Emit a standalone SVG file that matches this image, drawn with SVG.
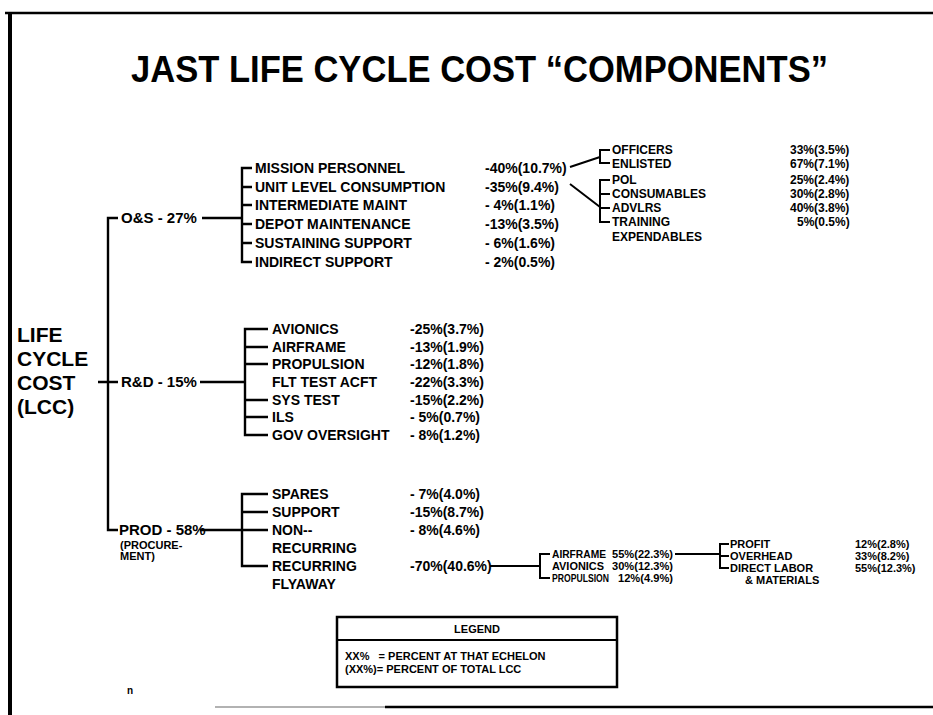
<svg xmlns="http://www.w3.org/2000/svg" width="933" height="715" viewBox="0 0 933 715">
<style>
text{font-family:"Liberation Sans",Arial,sans-serif;font-weight:bold;fill:#000}
.t{font-size:37px}
.root{font-size:21px}
.l1{font-size:15px}
.l2{font-size:14px}
.l3{font-size:12px}
.l4{font-size:11px}
.l5{font-size:10.5px}
.lg{font-size:11px}
.c{stroke:#000;stroke-width:2.4;fill:none}
.c3{stroke:#000;stroke-width:2;fill:none}
.frame{stroke:#000;fill:none}
</style>
<rect width="933" height="715" fill="#fff"/>
<g id="frame">
<rect x="8" y="12" width="4" height="703" fill="#000"/>
<line class="frame" x1="5" y1="13" x2="933" y2="13" stroke-width="2.5"/>
<line x1="215" y1="707" x2="385" y2="707" stroke="#999" stroke-width="1.5"/>
<line class="frame" x1="385" y1="707" x2="933" y2="707" stroke-width="2.5"/>
</g>
<g id="title"><text class="t" x="131" y="82" textLength="697" lengthAdjust="spacingAndGlyphs">JAST LIFE CYCLE COST “COMPONENTS”</text></g>
<g id="connectors">
<path class="c" d="M118,218 H108 V530 H118 M98,382 H118"/>
<path class="c" d="M202,218 H242 M252,168 H242 V262 H252 M242,187 H252 M242,205 H252 M242,224 H252 M242,243 H252"/>
<path class="c3" d="M570,167 L600,157 M610,150 H600 V163 H610"/>
<path class="c3" d="M570,184 L600,207 M610,180 H600 V222 H610 M600,194 H610 M600,208 H610"/>
<path class="c" d="M200,382 H245 M268,329 H245 V435 H268 M245,347 H268 M245,364 H268 M245,400 H268 M245,417 H268"/>
<path class="c" d="M200,530 H242 M268,494 H242 V566 H268 M242,512 H268 M242,530 H268"/>
<path class="c3" d="M490,566 H540 M550,554 H540 V578 H550"/>
<path class="c3" d="M675,554 H720 M729,544 H720 V568 H729 M720,556 H729"/>
</g>
<g id="n-lcc">
<text class="root" x="17" y="342">LIFE</text>
<text class="root" x="17" y="366">CYCLE</text>
<text class="root" x="17" y="390">COST</text>
<text class="root" x="17" y="414">(LCC)</text>
</g>
<g id="n-os"><text class="l1" x="121" y="223">O&amp;S - 27%</text></g>
<g id="n-rd"><text class="l1" x="121" y="387">R&amp;D - 15%</text></g>
<g id="n-prod"><text class="l1" x="119" y="535">PROD - 58%</text>
<text class="l4" x="120" y="549">(PROCURE-</text>
<text class="l4" x="120" y="560">MENT)</text></g>
<g id="n-os-1"><text class="l2" x="255" y="173">MISSION PERSONNEL</text><text class="l2" x="485" y="173">-40%(10.7%)</text></g>
<g id="n-os-2"><text class="l2" x="255" y="192">UNIT LEVEL CONSUMPTION</text><text class="l2" x="485" y="192">-35%(9.4%)</text></g>
<g id="n-os-3"><text class="l2" x="255" y="210">INTERMEDIATE MAINT</text><text class="l2" x="485" y="210">- 4%(1.1%)</text></g>
<g id="n-os-4"><text class="l2" x="255" y="229">DEPOT MAINTENANCE</text><text class="l2" x="485" y="229">-13%(3.5%)</text></g>
<g id="n-os-5"><text class="l2" x="255" y="248">SUSTAINING SUPPORT</text><text class="l2" x="485" y="248">- 6%(1.6%)</text></g>
<g id="n-os-6"><text class="l2" x="255" y="267">INDIRECT SUPPORT</text><text class="l2" x="485" y="267">- 2%(0.5%)</text></g>
<g id="n-off"><text class="l3" x="612" y="154">OFFICERS</text><text class="l3" x="790" y="154">33%(3.5%)</text></g>
<g id="n-enl"><text class="l3" x="612" y="168">ENLISTED</text><text class="l3" x="790" y="168">67%(7.1%)</text></g>
<g id="n-pol"><text class="l3" x="612" y="184">POL</text><text class="l3" x="790" y="184">25%(2.4%)</text></g>
<g id="n-cons"><text class="l3" x="612" y="198">CONSUMABLES</text><text class="l3" x="790" y="198">30%(2.8%)</text></g>
<g id="n-advlrs"><text class="l3" x="612" y="212">ADVLRS</text><text class="l3" x="790" y="212">40%(3.8%)</text></g>
<g id="n-train"><text class="l3" x="612" y="226">TRAINING</text><text class="l3" x="612" y="241">EXPENDABLES</text><text class="l3" x="797" y="226">5%(0.5%)</text></g>
<g id="n-rd-1"><text class="l2" x="272" y="334">AVIONICS</text><text class="l2" x="410" y="334">-25%(3.7%)</text></g>
<g id="n-rd-2"><text class="l2" x="272" y="352">AIRFRAME</text><text class="l2" x="410" y="352">-13%(1.9%)</text></g>
<g id="n-rd-3"><text class="l2" x="272" y="369">PROPULSION</text><text class="l2" x="410" y="369">-12%(1.8%)</text></g>
<g id="n-rd-4"><text class="l2" x="272" y="387">FLT TEST ACFT</text><text class="l2" x="410" y="387">-22%(3.3%)</text></g>
<g id="n-rd-5"><text class="l2" x="272" y="405">SYS TEST</text><text class="l2" x="410" y="405">-15%(2.2%)</text></g>
<g id="n-rd-6"><text class="l2" x="272" y="422">ILS</text><text class="l2" x="410" y="422">- 5%(0.7%)</text></g>
<g id="n-rd-7"><text class="l2" x="272" y="440">GOV OVERSIGHT</text><text class="l2" x="410" y="440">- 8%(1.2%)</text></g>
<g id="n-prod-1"><text class="l2" x="272" y="499">SPARES</text><text class="l2" x="410" y="499">- 7%(4.0%)</text></g>
<g id="n-prod-2"><text class="l2" x="272" y="517">SUPPORT</text><text class="l2" x="410" y="517">-15%(8.7%)</text></g>
<g id="n-prod-3"><text class="l2" x="272" y="535">NON--</text><text class="l2" x="272" y="553">RECURRING</text><text class="l2" x="410" y="535">- 8%(4.6%)</text></g>
<g id="n-prod-4"><text class="l2" x="272" y="571">RECURRING</text><text class="l2" x="272" y="589">FLYAWAY</text><text class="l2" x="410" y="571">-70%(40.6%)</text></g>
<g id="n-af"><text class="l5" x="552" y="558" textLength="54" lengthAdjust="spacingAndGlyphs">AIRFRAME</text><text class="l5" x="612" y="558" textLength="61" lengthAdjust="spacingAndGlyphs">55%(22.3%)</text></g>
<g id="n-av"><text class="l5" x="552" y="570" textLength="52" lengthAdjust="spacingAndGlyphs">AVIONICS</text><text class="l5" x="612" y="570" textLength="61" lengthAdjust="spacingAndGlyphs">30%(12.3%)</text></g>
<g id="n-prop"><text class="l5" x="552" y="582" textLength="57" lengthAdjust="spacingAndGlyphs">PROPULSION</text><text class="l5" x="618" y="582" textLength="55" lengthAdjust="spacingAndGlyphs">12%(4.9%)</text></g>
<g id="n-profit"><text class="l4" x="730" y="548">PROFIT</text><text class="l4" x="855" y="548">12%(2.8%)</text></g>
<g id="n-overhead"><text class="l4" x="730" y="560">OVERHEAD</text><text class="l4" x="855" y="560">33%(8.2%)</text></g>
<g id="n-dl"><text class="l4" x="730" y="572">DIRECT LABOR</text><text class="l4" x="745" y="584">&amp; MATERIALS</text><text class="l4" x="855" y="572">55%(12.3%)</text></g>
<g id="legend">
<rect x="337" y="617" width="280" height="70" fill="none" stroke="#000" stroke-width="2.5"/>
<line x1="337" y1="640" x2="617" y2="640" stroke="#000" stroke-width="2"/>
<text class="lg" x="477" y="633" text-anchor="middle">LEGEND</text>
<text class="lg" x="345" y="660" xml:space="preserve">XX%   = PERCENT AT THAT ECHELON</text>
<text class="lg" x="345" y="673">(XX%)= PERCENT OF TOTAL LCC</text>
</g>
<g id="mark"><text style="font-size:10px" x="127" y="694">n</text></g>
</svg>
